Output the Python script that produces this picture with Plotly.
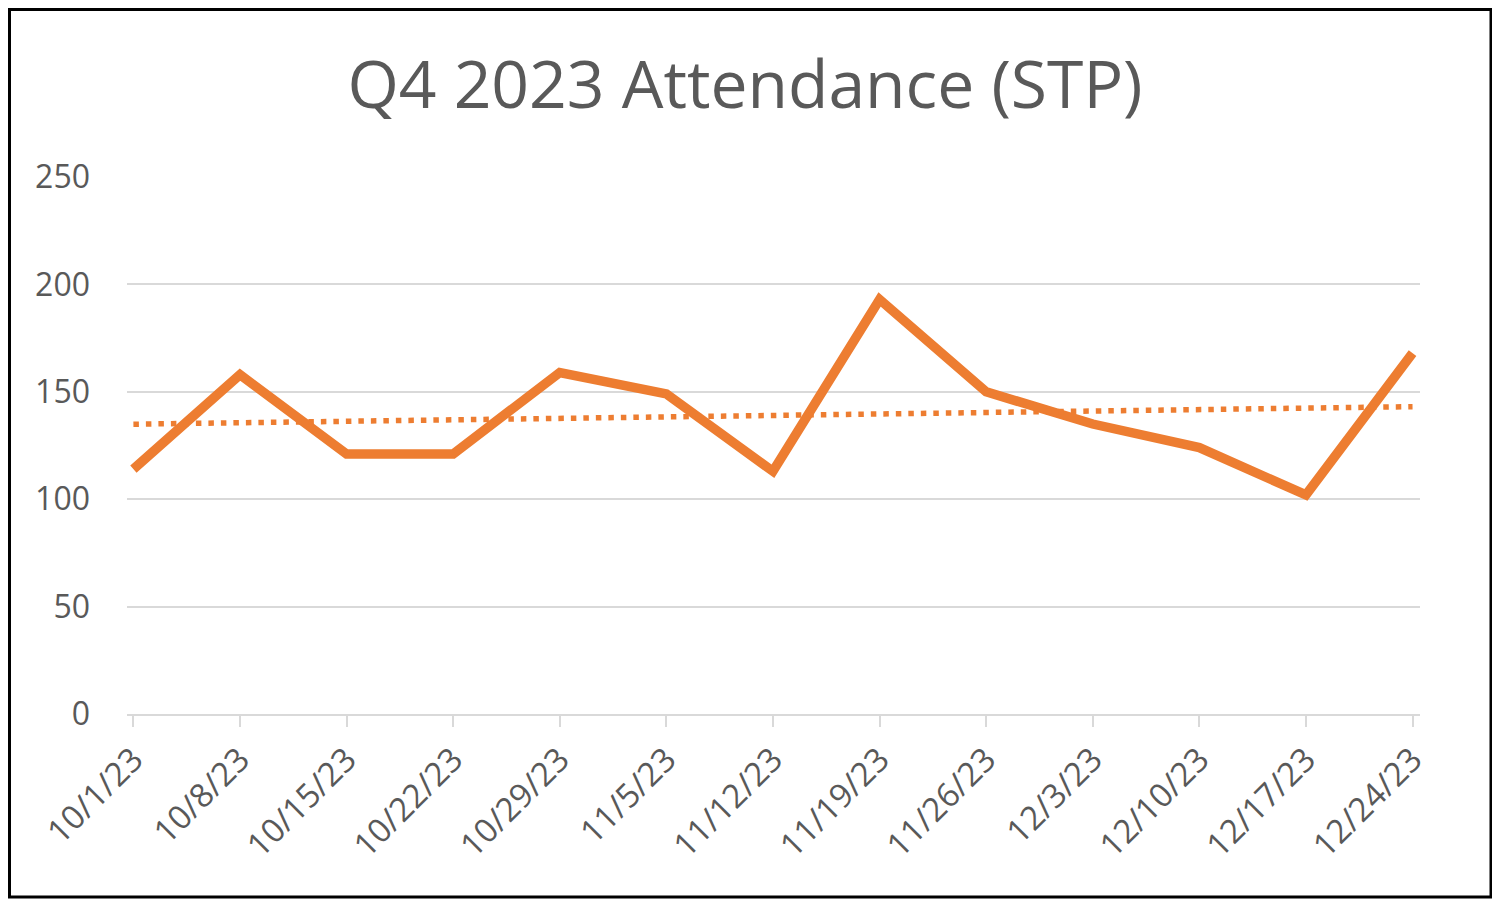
import numpy as np
import plotly.graph_objects as go

# weekly attendance, Q4 2023 (STP)
weeks = ["10/1/23", "10/8/23", "10/15/23", "10/22/23", "10/29/23", "11/5/23", "11/12/23",
         "11/19/23", "11/26/23", "12/3/23", "12/10/23", "12/17/23", "12/24/23"]
attendance = [114, 158, 121, 121, 159, 149, 113, 193, 150, 135, 124, 102, 168]
y_ticks = [0, 50, 100, 150, 200, 250]

ORANGE = "#ED7D31"
GREY_TEXT = "#595959"
GRID = "#D9D9D9"
FONT = "Open Sans"

# linear trendline, same as Excel's
idx = np.arange(len(attendance))
slope, intercept = np.polyfit(idx, attendance, 1)
trend = slope * idx + intercept

fig = go.Figure()
fig.add_trace(go.Scatter(
    x=weeks, y=attendance, mode="lines",
    line=dict(color=ORANGE, width=9.5),
    name="Attendance",
))
fig.add_trace(go.Scatter(
    x=weeks, y=trend, mode="lines",
    line=dict(color=ORANGE, width=5.5, dash="5.5px,7px"),
    name="Linear (Attendance)",
))

# page has an 8px body margin, so the figure is laid out 8px in from the window
W, H = 1492, 897
L, R, T, B = 119, 80, 169, 191
pw, ph = W - L - R, H - T - B

fig.update_layout(
    width=W, height=H,
    margin=dict(l=L, r=R, t=T, b=B),
    paper_bgcolor="white", plot_bgcolor="white",
    showlegend=False,
    font=dict(family=FONT, color=GREY_TEXT, size=32),
    title=dict(
        text="Q4 2023 Attendance (STP)",
        font=dict(family=FONT, size=66, color=GREY_TEXT),
        x=737 / W, xanchor="center",
        y=1 - 77 / H, yanchor="middle",
    ),
    xaxis=dict(
        type="category",
        range=[-0.06, 12.07],
        showgrid=False,
        showline=True, linecolor=GRID, linewidth=2,
        ticks="outside", tickcolor=GRID, ticklen=11, tickwidth=2,
        tickangle=-45,
        tickfont=dict(size=33, color=GREY_TEXT),
    ),
    yaxis=dict(
        range=[0, 250],
        tickvals=y_ticks,
        showgrid=True, gridcolor=GRID, gridwidth=2,
        zeroline=False,
        showline=False,
        ticks="",
        ticklabelstandoff=36,
        tickfont=dict(size=32, color=GREY_TEXT),
    ),
)

# black frame round the whole chart
fig.add_shape(
    type="rect", xref="paper", yref="paper",
    x0=(1.5 - L) / pw, x1=(1483 - L) / pw,
    y0=(H - B - 889) / ph, y1=(H - B - 1.5) / ph,
    line=dict(color="black", width=3),
    layer="above",
)

fig.write_html("out.html")
